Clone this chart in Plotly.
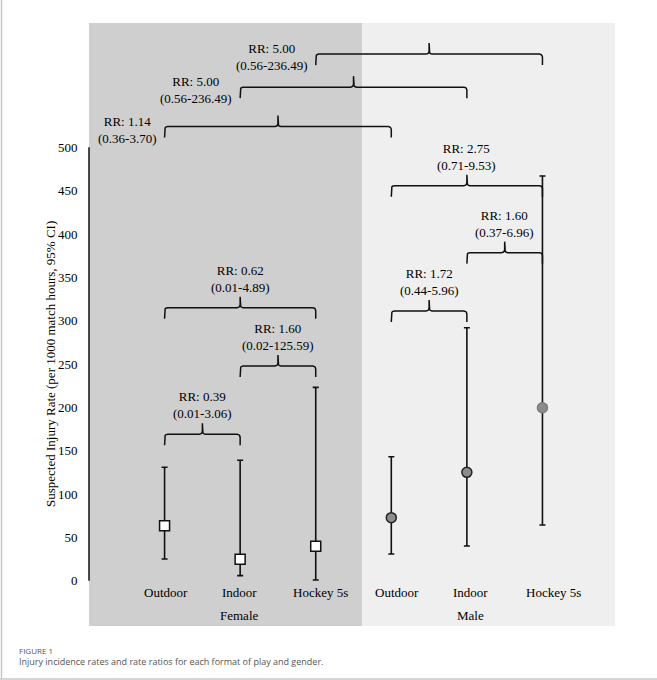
import numpy as np
import plotly.graph_objects as go

# Injury rates (per 1000 match hours) with 95% CI
formats = ['Outdoor', 'Indoor', 'Hockey 5s']
genders = ['Female', 'Male']

female_rate = [63.5, 24.7, 39.7]
female_lower = [25.0, 5.8, 0.8]
female_upper = [130.8, 138.9, 223.0]

male_rate = [72.7, 125.0, 199.6]
male_lower = [30.8, 40.0, 64.3]
male_upper = [143.0, 291.9, 467.0]

y_ticks = [0, 50, 100, 150, 200, 250, 300, 350, 400, 450, 500]

# Rate ratio comparisons: (left group index, right group index, bracket level, RR, CI)
rr_left = [0, 1, 0, 3, 4, 3, 0, 1, 2]
rr_right = [1, 2, 2, 4, 5, 5, 3, 4, 5]
rr_level = [169, 247.7, 315, 311.2, 378.5, 455.8, 524, 569.5, 607.6]
rr_value = ['0.39', '1.60', '0.62', '1.72', '1.60', '2.75', '1.14', '5.00', '5.00']
rr_ci = ['0.01-3.06', '0.02-125.59', '0.01-4.89', '0.44-5.96', '0.37-6.96',
         '0.71-9.53', '0.36-3.70', '0.56-236.49', '0.56-236.49']
rr_label_side = ['top', 'top', 'top', 'top', 'top', 'top', 'left', 'left', 'left']

# figure geometry
W, H = 657, 680
ML, MR, MT, MB = 89, 42, 23, 54
x_range = [-1.0, 5.96]
y_range = [-52.3, 643.5]
px_x = (x_range[1] - x_range[0]) / (W - ML - MR)   # data units per pixel
px_y = (y_range[1] - y_range[0]) / (H - MT - MB)

serif = 'Liberation Serif'
ink = '#000000'
fig = go.Figure()

# female points (white squares)
fx = [0, 1, 2]
fig.add_trace(go.Scatter(
    x=fx, y=female_rate, mode='markers',
    marker=dict(symbol='square', size=10, color='white',
                line=dict(color='#111111', width=1.5)),
    error_y=dict(type='data', symmetric=False,
                 array=[u - r for u, r in zip(female_upper, female_rate)],
                 arrayminus=[r - l for r, l in zip(female_rate, female_lower)],
                 color='#111111', thickness=1.6, width=3),
    showlegend=False, hoverinfo='skip'))

# male points (grey circles)
mx = [3, 4, 5]
fig.add_trace(go.Scatter(
    x=mx, y=male_rate, mode='markers',
    marker=dict(symbol='circle', size=10, color='#8c8c8c',
                line=dict(color=['#222222', '#222222', '#7a7a7a'], width=1.5)),
    error_y=dict(type='data', symmetric=False,
                 array=[u - r for u, r in zip(male_upper, male_rate)],
                 arrayminus=[r - l for r, l in zip(male_rate, male_lower)],
                 color='#111111', thickness=1.6, width=3),
    showlegend=False, hoverinfo='skip'))


def brace(xl, xr, y, drop=11, peak=11, r=3):
    """curly bracket path in data units (sizes given in pixels)"""
    xm = (xl + xr) / 2
    rx, ry = r * px_x, r * px_y
    t = np.linspace(0, np.pi / 2, 6)
    xs, ys = [xl], [y - drop * px_y]
    # left corner
    a = np.pi - t
    xs += list(xl + rx + rx * np.cos(a)); ys += list(y - ry + ry * np.sin(a))
    # up into the middle tip
    a = -np.pi / 2 + t
    xs += list(xm - rx + rx * np.cos(a)); ys += list(y + ry + ry * np.sin(a))
    xs += [xm]; ys += [y + peak * px_y]
    a = np.pi + t
    xs += list(xm + rx + rx * np.cos(a)); ys += list(y + ry + ry * np.sin(a))
    # right corner
    a = np.pi / 2 - t
    xs += list(xr - rx + rx * np.cos(a)); ys += list(y - ry + ry * np.sin(a))
    xs += [xr]; ys += [y - drop * px_y]
    return xs, ys


annotations = []
for a, b, lvl, v, ci, side in zip(rr_left, rr_right, rr_level, rr_value, rr_ci, rr_label_side):
    bx, by = brace(a, b, lvl)
    fig.add_trace(go.Scatter(x=bx, y=by, mode='lines',
                             line=dict(color='#111111', width=1.5),
                             showlegend=False, hoverinfo='skip'))
    txt = f'RR: {v}<br>({ci})'
    if side == 'top':
        annotations.append(dict(x=(a + b) / 2, y=lvl, text=txt, showarrow=False,
                                xanchor='center', yanchor='middle', yshift=29, align='center',
                                font=dict(family=serif, size=13, color=ink)))
    else:
        annotations.append(dict(x=a, y=lvl, text=txt, showarrow=False,
                                xanchor='right', yanchor='middle', xshift=-6, yshift=-3,
                                align='center',
                                font=dict(family=serif, size=13, color=ink)))

# category and group labels
label_nudge = [1, -1, 5, 6, 4, 11]
for i, name in enumerate(formats * 2):
    annotations.append(dict(x=i, y=-14.2, text=name, showarrow=False, xshift=label_nudge[i],
                            font=dict(family=serif, size=13, color=ink)))
for i, g in enumerate(genders):
    annotations.append(dict(x=1 + 3 * i, y=-39.7, text=g, showarrow=False,
                            xshift=-1 + 5 * i,
                            font=dict(family=serif, size=13, color=ink)))


def paper_x(px):
    return (px - ML) / (W - ML - MR)


def paper_y(py):
    return (H - MB - py) / (H - MT - MB)


# y axis title
annotations.append(dict(x=paper_x(50), xref='paper', y=250,
                        text='Suspected Injury Rate (per 1000 match hours, 95% CI)',
                        textangle=-90, showarrow=False, xanchor='center', yanchor='middle',
                        font=dict(family=serif, size=13, color=ink)))

# figure caption
annotations.append(dict(x=paper_x(17), y=paper_y(650), xref='paper', yref='paper',
                        text='FIGURE 1', showarrow=False, xanchor='left', yanchor='middle',
                        font=dict(family='Open Sans', size=8, color='#555555')))
annotations.append(dict(x=paper_x(17), y=paper_y(661), xref='paper', yref='paper',
                        text='Injury incidence rates and rate ratios for each format of play and gender.',
                        showarrow=False, xanchor='left', yanchor='middle',
                        font=dict(family='Open Sans', size=9, color='#555555')))

split = paper_x(362)
shapes = [
    dict(type='rect', xref='paper', yref='paper', x0=0, x1=split, y0=0, y1=1,
         fillcolor='#cfcfcf', line_width=0, layer='below'),
    dict(type='rect', xref='paper', yref='paper', x0=split, x1=1, y0=0, y1=1,
         fillcolor='#efefef', line_width=0, layer='below'),
    # y axis line only over 0-500
    dict(type='line', xref='paper', yref='y', x0=0, x1=0, y0=0, y1=500,
         line=dict(color='#111111', width=1.5)),
    # page frame lines
    dict(type='line', xref='paper', yref='paper', x0=paper_x(1.5), x1=paper_x(1.5),
         y0=paper_y(0), y1=paper_y(679), line=dict(color='#c8c8c8', width=1.5)),
    dict(type='line', xref='paper', yref='paper', x0=paper_x(0), x1=paper_x(657),
         y0=paper_y(679), y1=paper_y(679), line=dict(color='#c8c8c8', width=1.5)),
]

fig.update_layout(
    width=W, height=H,
    margin=dict(l=ML, r=MR, t=MT, b=MB),
    paper_bgcolor='white', plot_bgcolor='white',
    xaxis=dict(range=x_range, visible=False),
    yaxis=dict(range=y_range, tickvals=y_ticks, showgrid=False, zeroline=False,
               showline=False, ticks='outside', ticklen=8, tickcolor='rgba(0,0,0,0)',
               tickfont=dict(family=serif, size=13, color=ink)),
    shapes=shapes,
    annotations=annotations,
)

# page has a default 8px body margin; drop it so the figure sits at the window corner
fig.write_html('out.html', config={'displayModeBar': False},
               post_script="document.body.style.margin='0';")
